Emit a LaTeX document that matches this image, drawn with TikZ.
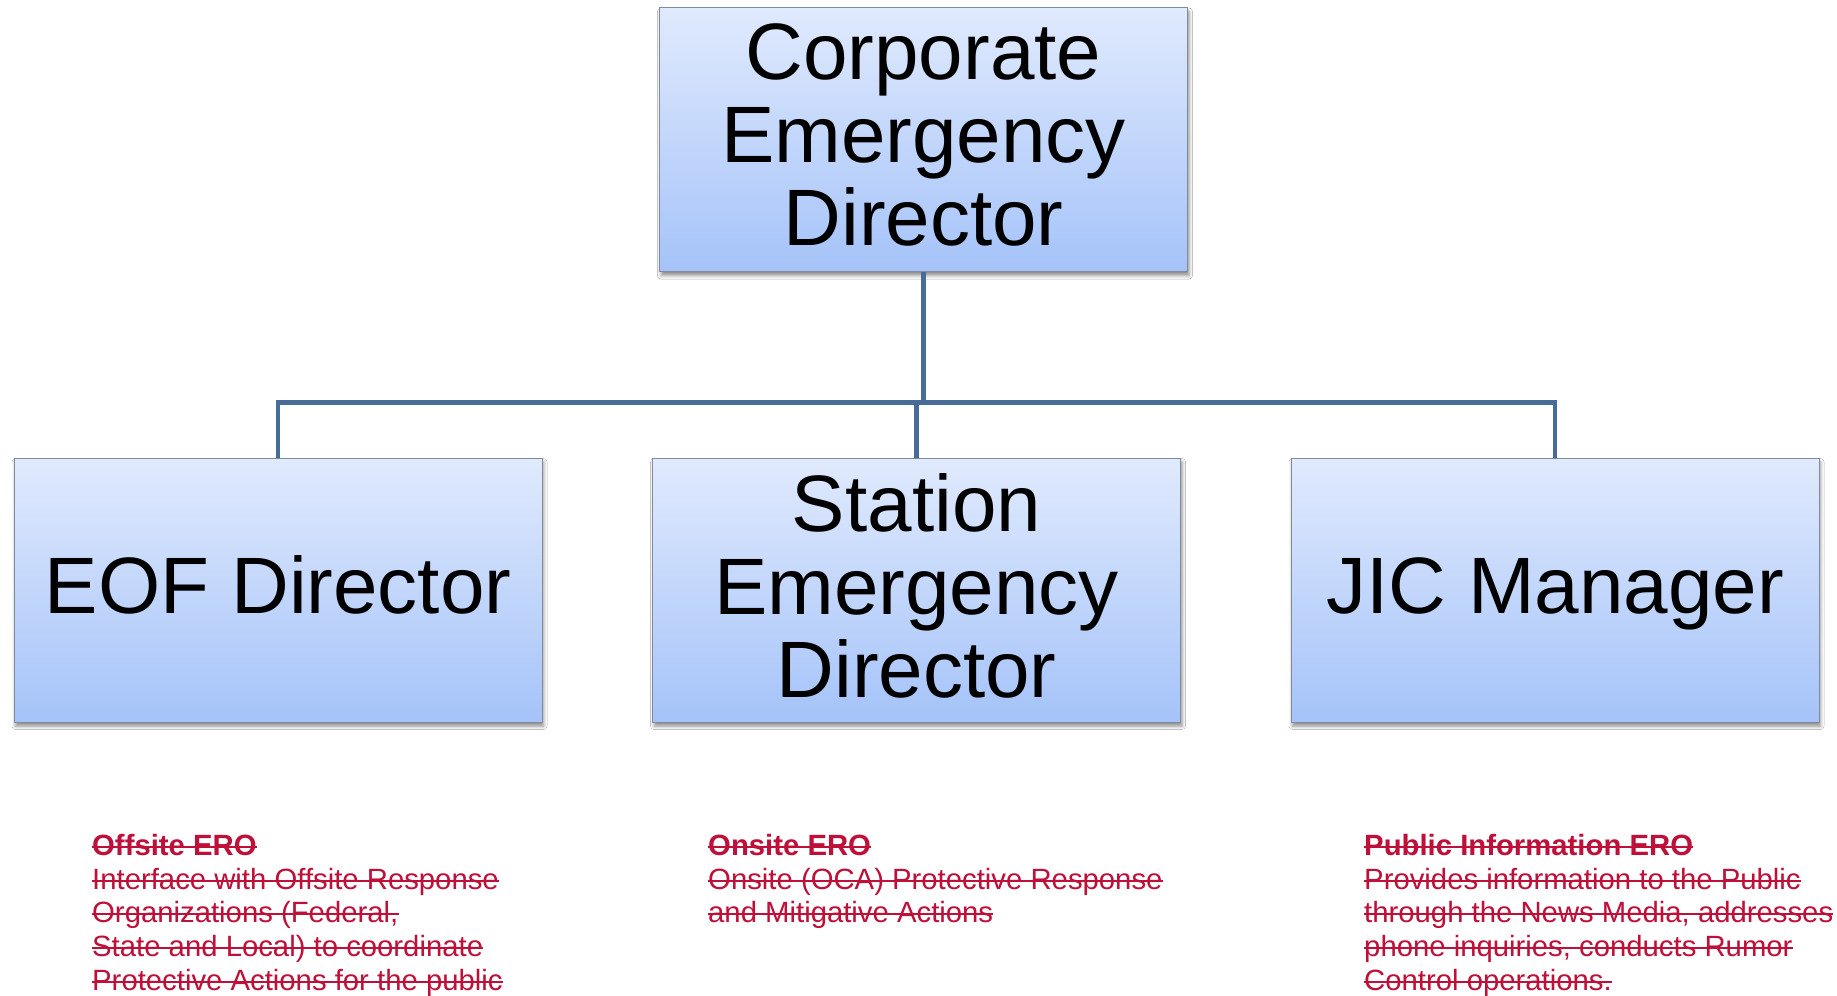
\documentclass[tikz,border=0pt]{standalone}
\usepackage{fontspec}
\setmainfont{Liberation Sans}
\usetikzlibrary{shadows.blur}

\definecolor{boxtop}{RGB}{224,234,253}
\definecolor{boxbot}{RGB}{165,195,249}
\definecolor{boxedge}{RGB}{128,138,155}
\definecolor{linkblue}{RGB}{72,108,152}
\definecolor{erored}{RGB}{190,16,56}

\tikzset{
  rolebox/.style={draw=boxedge, line width=1pt, top color=boxtop, bottom color=boxbot,
    minimum width=528pt, minimum height=264pt, inner sep=0pt,
    blur shadow={shadow xshift=1.5pt, shadow yshift=-4pt, shadow blur radius=3.5pt, shadow opacity=45}},
  roletext/.style={inner sep=0pt, align=center, font=\fontsize{80}{83}\selectfont},
  link/.style={draw=linkblue, line width=4.5pt},
  erohead/.style={anchor=base west, inner sep=0pt, text=erored, font=\fontsize{29.3}{33.7}\selectfont\bfseries},
  eroline/.style={anchor=base west, inner sep=0pt, text=erored, font=\fontsize{29.3}{33.7}\selectfont},
  strike/.style={draw=erored, line width=2pt}
}

\begin{document}
\begin{tikzpicture}[x=1pt, y=-1pt]
  \useasboundingbox[fill=white] (0,0) rectangle (1837,996);

  % organisation boxes
  \node[rolebox] (ced) at (923.5,139.5) {};
  \node[rolebox] (eof) at (278,590) {};
  \node[rolebox] (sed) at (916.5,590) {};
  \node[rolebox] (jic) at (1555,590) {};

  % box titles
  \node[roletext] (cedtxt) at ([yshift=4.5pt]ced.center) {Corporate\\Emergency\\Director};
  \node[roletext, anchor=base] (eoftxt) at ([yshift=-23pt]eof.center) {EOF Director};
  \node[roletext] (sedtxt) at ([yshift=4.5pt]sed.center) {Station\\Emergency\\Director};
  \node[roletext, anchor=base] (jictxt) at ([yshift=-23pt]jic.center) {JIC Manager};

  % reporting lines
  \coordinate (split) at (922,402.5);
  \draw[link] (ced.south) -- (ced.south |- split);
  \draw[link] (eof.north) |- (split) -| (jic.north);
  \draw[link] (sed.north) -- (sed.north |- split);

  % Offsite ERO
  \node[erohead] (off0) at (92,855.5) {Offsite ERO};
  \node[eroline] (off1) at (92,889.2) {Interface with Offsite Response};
  \node[eroline] (off2) at (92,922.9) {Organizations (Federal,};
  \node[eroline] (off3) at (92,956.6) {State and Local) to coordinate};
  \node[eroline] (off4) at (92,990.3) {Protective Actions for the public};

  % Onsite ERO
  \node[erohead] (on0) at (708,855.5) {Onsite ERO};
  \node[eroline] (on1) at (708,889.2) {Onsite (OCA) Protective Response};
  \node[eroline] (on2) at (708,922.9) {and Mitigative Actions};

  % Public Information ERO
  \node[erohead] (pub0) at (1364,855.5) {Public Information ERO};
  \node[eroline] (pub1) at (1364,889.2) {Provides information to the Public};
  \node[eroline] (pub2) at (1364,922.9) {through the News Media, addresses};
  \node[eroline] (pub3) at (1364,956.6) {phone inquiries, conducts Rumor};
  \node[eroline] (pub4) at (1364,990.3) {Control operations.};

  % strike-through rules
  \foreach \n in {off0,on0,pub0}
    \draw[strike] ([yshift=9pt]\n.base west) -- ([yshift=9pt]\n.base east);
  \foreach \n in {off1,off2,off3,off4,on1,on2,pub1,pub2,pub3,pub4}
    \draw[strike] ([yshift=8.5pt]\n.base west) -- ([yshift=8.5pt]\n.base east);
\end{tikzpicture}
\end{document}
